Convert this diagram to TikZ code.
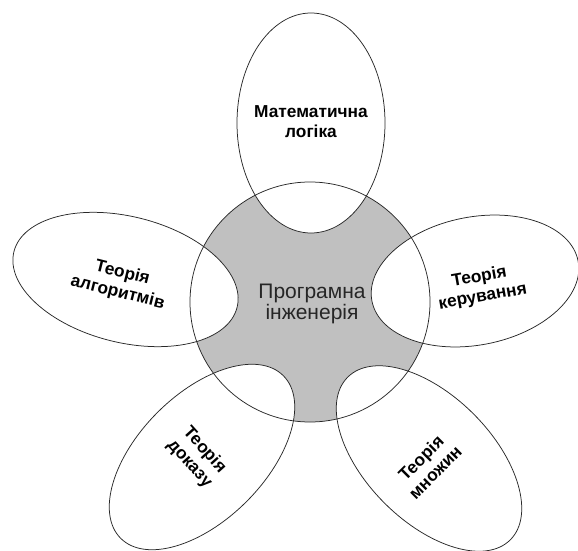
\documentclass[tikz,border=0pt]{standalone}
\usepackage{fontspec}
\setmainfont{Liberation Sans}
\definecolor{hubgray}{RGB}{192,192,192}
\definecolor{edgegray}{RGB}{40,40,40}
\tikzset{
  outline/.style={draw=edgegray, line width=0.75pt},
  petallabel/.style={align=center, inner sep=0pt, font=\bfseries\fontsize{17.3}{20}\selectfont},
  hublabel/.style={align=center, inner sep=0pt, text=black!85, font=\fontsize{21}{21.5}\selectfont}
}
\begin{document}
\begin{tikzpicture}[x=1pt,y=1pt]
\useasboundingbox (0,0) rectangle (578,550);
\clip (0,0) rectangle (578,550);
% centres
\coordinate (hub) at (310,248);
\coordinate (ptop) at (311,427);
\coordinate (pleft) at (125.5,270.5);
\coordinate (pright) at (475,269);
\coordinate (pbl) at (202,93);
\coordinate (pbr) at (429,91.5);
% fills
\fill[hubgray] (hub) circle (120pt);
\fill[white] (ptop) ellipse (74pt and 110pt);
\fill[white, rotate around={-14:(pleft)}] (pleft) ellipse (115pt and 63pt);
\fill[white, rotate around={11:(pright)}] (pright) ellipse (105pt and 64pt);
\fill[white, rotate around={45:(pbl)}] (pbl) ellipse (115pt and 63pt);
\fill[white, rotate around={-45:(pbr)}] (pbr) ellipse (115pt and 63pt);
% outlines
\draw[outline] (hub) circle (120pt);
\draw[outline] (ptop) ellipse (74pt and 110pt);
\draw[outline, rotate around={-14:(pleft)}] (pleft) ellipse (115pt and 63pt);
\draw[outline, rotate around={11:(pright)}] (pright) ellipse (105pt and 64pt);
\draw[outline, rotate around={45:(pbl)}] (pbl) ellipse (115pt and 63pt);
\draw[outline, rotate around={-45:(pbr)}] (pbr) ellipse (115pt and 63pt);
% labels
\node[hublabel] (hubtext) at (312,246) {Програмна\\інженерія};
\node[petallabel] (toptext) at (311,428) {Математична\\логіка};
\node[petallabel, rotate=-14] (lefttext) at (120,267) {Теорія\\алгоритмів};
\node[petallabel, rotate=10] (righttext) at (481,263) {Теорія\\керування};
\node[petallabel, rotate=-48] (bltext) at (197,93) {Теорія\\доказу};
\node[petallabel, rotate=45] (brtext) at (428,85) {Теорія\\множин};
\end{tikzpicture}
\end{document}
